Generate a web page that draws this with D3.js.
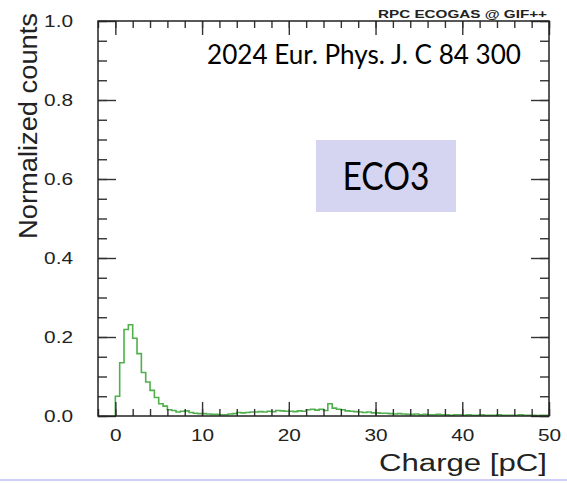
<!DOCTYPE html>
<html>
<head>
<meta charset="utf-8">
<script src="https://cdn.jsdelivr.net/npm/d3@7"></script>
<style>
  html, body { margin: 0; padding: 0; background: #fff; }
  svg { display: block; }
</style>
</head>
<body>
<div id="chart"></div>
<script>
// charge spectrum, ECO3 mixture
const BIN_START = 0, BIN_WIDTH = 0.5;
const NORM_COUNTS = [
    0.050, 0.135, 0.219, 0.231, 0.197, 0.158, 0.110, 0.086, 0.065, 0.047,
    0.031, 0.025, 0.016, 0.014, 0.010, 0.012, 0.013, 0.009, 0.007, 0.006,
    0.006, 0.005, 0.004, 0.004, 0.003, 0.003, 0.005, 0.006, 0.009, 0.008,
    0.009, 0.010, 0.010, 0.011, 0.010, 0.012, 0.011, 0.014, 0.013, 0.012,
    0.012, 0.011, 0.013, 0.012, 0.016, 0.017, 0.015, 0.017, 0.014, 0.031,
    0.020, 0.017, 0.016, 0.013, 0.012, 0.011, 0.010, 0.009, 0.010, 0.008,
    0.008, 0.007, 0.007, 0.006, 0.005, 0.006, 0.005, 0.004, 0.004, 0.005,
    0.003, 0.004, 0.003, 0.003, 0.004, 0.003, 0.003, 0.002, 0.003, 0.003,
    0.002, 0.003, 0.002, 0.002, 0.003, 0.002, 0.002, 0.002, 0.003, 0.002,
    0.002, 0.002, 0.002, 0.003, 0.002, 0.002, 0.002, 0.001, 0.002, 0.002
];
const X_DOMAIN = [-2, 50];
const Y_DOMAIN = [0, 1];
const X_MAJOR = [0, 10, 20, 30, 40, 50];
const Y_MAJOR = [0, 0.2, 0.4, 0.6, 0.8, 1.0];
const X_LABEL = "Charge [pC]";
const Y_LABEL = "Normalized counts";
const HEADER = "RPC ECOGAS @ GIF++";
const CITATION = "2024 Eur. Phys. J. C 84 300";
const MIXTURE = "ECO3";

const totalW = 567, totalH = 483;
const margin = { top: 21, right: 18, bottom: 67, left: 98 };
const W = totalW - margin.left - margin.right;
const H = totalH - margin.top - margin.bottom;
const SX = 1.3;   // the source image is stretched sideways
const ROOT_FONT = "'Liberation Sans', Arial, Helvetica, sans-serif";

const root = d3.select("#chart").append("svg")
    .attr("width", totalW).attr("height", totalH);
const svg = root.append("g").attr("transform", `translate(${margin.left},${margin.top})`);

const x = d3.scaleLinear().domain(X_DOMAIN).range([0, W]);
const y = d3.scaleLinear().domain(Y_DOMAIN).range([H, 0]);

const xMinor = d3.range(X_DOMAIN[0], X_DOMAIN[1] + 0.01, 2);
const yMinor = d3.range(0, 1.0001, 0.05);

function stretch(sel, k) {
    sel.each(function() {
        const w = this.getComputedTextLength();
        d3.select(this).attr("textLength", w * k).attr("lengthAdjust", "spacingAndGlyphs");
    });
}

function styleAxis(g) {
    g.select(".domain").remove();
    g.selectAll("line").attr("stroke", "#333").attr("stroke-width", 1.4);
    g.attr("font-family", ROOT_FONT).attr("font-size", 16);
    g.selectAll("text").attr("fill", "#222");
}

// histogram, drawn as ROOT step outline
const pts = [[x(BIN_START), y(0)]];
NORM_COUNTS.forEach((v, i) => {
    const x0 = BIN_START + i * BIN_WIDTH, x1 = x0 + BIN_WIDTH;
    pts.push([x(x0), y(v)], [x(x1), y(v)]);
});
pts.push([x(BIN_START + NORM_COUNTS.length * BIN_WIDTH), y(0)]);
svg.append("path")
    .attr("d", d3.line()(pts))
    .attr("fill", "none")
    .attr("stroke", "#4fb04c")
    .attr("stroke-width", 1.6);

// axes: ticks on all four sides, pointing in
svg.append("g").attr("transform", `translate(0,${H})`)
    .call(d3.axisBottom(x).tickValues(xMinor).tickSize(-7).tickFormat(""))
    .call(styleAxis);
const xAx = svg.append("g").attr("transform", `translate(0,${H})`)
    .call(d3.axisBottom(x).tickValues(X_MAJOR).tickSize(-14).tickPadding(14).tickFormat(d3.format("d")))
    .call(styleAxis);
stretch(xAx.selectAll("text"), SX);

svg.append("g").call(d3.axisTop(x).tickValues(xMinor).tickSize(-7).tickFormat("")).call(styleAxis);
svg.append("g").call(d3.axisTop(x).tickValues(X_MAJOR).tickSize(-14).tickFormat("")).call(styleAxis);

svg.append("g").call(d3.axisLeft(y).tickValues(yMinor).tickSize(-9).tickFormat("")).call(styleAxis);
const yAx = svg.append("g")
    .call(d3.axisLeft(y).tickValues(Y_MAJOR).tickSize(-18).tickPadding(25).tickFormat(d3.format(".1f")))
    .call(styleAxis);
stretch(yAx.selectAll("text"), SX);

svg.append("g").attr("transform", `translate(${W},0)`)
    .call(d3.axisRight(y).tickValues(yMinor).tickSize(-9).tickFormat("")).call(styleAxis);
svg.append("g").attr("transform", `translate(${W},0)`)
    .call(d3.axisRight(y).tickValues(Y_MAJOR).tickSize(-18).tickFormat("")).call(styleAxis);

svg.append("rect")
    .attr("x", 0).attr("y", 0).attr("width", W).attr("height", H)
    .attr("fill", "none").attr("stroke", "#222").attr("stroke-width", 1.5);

// axis titles
svg.append("text")
    .attr("x", W - 2).attr("y", H + 55)
    .attr("text-anchor", "end")
    .attr("font-family", ROOT_FONT).attr("font-size", 23).attr("fill", "#222")
    .attr("textLength", 168).attr("lengthAdjust", "spacingAndGlyphs")
    .text(X_LABEL);

root.append("text")
    .attr("transform", "translate(37,126) rotate(-90)")
    .attr("text-anchor", "middle")
    .attr("font-family", ROOT_FONT).attr("font-size", 25).attr("fill", "#222")
    .attr("textLength", 226).attr("lengthAdjust", "spacingAndGlyphs")
    .text(Y_LABEL);

// header above the frame
svg.append("text")
    .attr("x", W - 2).attr("y", -3)
    .attr("text-anchor", "end")
    .attr("font-family", ROOT_FONT).attr("font-size", 10).attr("font-weight", "bold").attr("fill", "#222")
    .attr("textLength", 169).attr("lengthAdjust", "spacingAndGlyphs")
    .text(HEADER);

// slide annotations
root.append("text")
    .attr("x", 207).attr("y", 64)
    .attr("font-family", "Lato, 'Open Sans', sans-serif").attr("font-size", 26).attr("fill", "#000")
    .attr("textLength", 314).attr("lengthAdjust", "spacingAndGlyphs")
    .text(CITATION);

root.append("rect")
    .attr("x", 316).attr("y", 140).attr("width", 140).attr("height", 72)
    .attr("fill", "#d5d5f1");
root.append("text")
    .attr("x", 386).attr("y", 190)
    .attr("text-anchor", "middle")
    .attr("font-family", "Lato, 'Open Sans', sans-serif").attr("font-size", 38).attr("fill", "#000")
    .attr("textLength", 87).attr("lengthAdjust", "spacingAndGlyphs")
    .text(MIXTURE);

root.append("line")
    .attr("x1", 0).attr("x2", totalW).attr("y1", 480).attr("y2", 480)
    .attr("stroke", "#cfcff5").attr("stroke-width", 2);
</script>
</body>
</html>
